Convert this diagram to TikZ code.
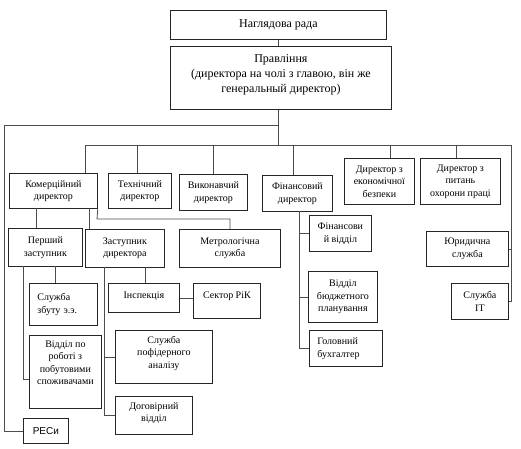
\documentclass[tikz,border=0pt]{standalone}
\usepackage{fontspec}
\setmainfont{Liberation Serif}
\newfontfamily\sansf{Liberation Sans}
\begin{document}
\begin{tikzpicture}[x=1pt,y=-1pt,
  box/.style={draw=black!85, line width=0.8pt, anchor=north west, align=center,
    inner sep=1pt, font=\fontsize{10}{12.5}\selectfont},
  bigbox/.style={box, font=\fontsize{12}{15}\selectfont},
  lbox/.style={box, align=left, inner xsep=8pt},
  con/.style={draw=black!70, line width=0.8pt}]
\useasboundingbox (0,0) rectangle (521,448);

% boxes
\node[bigbox, minimum width=216pt, minimum height=29pt] (nag) at (170,10) {Наглядова рада};
\node[bigbox, minimum width=221pt, minimum height=63pt] (prav) at (170,46)
  {Правління\\(директора на чолі з главою, він же\\генеральный директор)\\[-6pt]};
\node[box, minimum width=88pt, minimum height=35pt] (kom) at (9,173) {Комерційний\\директор};
\node[box, minimum width=63pt, minimum height=35pt] (tech) at (108,173) {Технічний\\директор};
\node[box, minimum width=68pt, minimum height=36pt] (vyk) at (179,174) {Виконавчий\\директор};
\node[box, minimum width=70pt, minimum height=36pt] (fin) at (262,175) {Фінансовий\\директор};
\node[box, minimum width=70pt, minimum height=46pt] (econ) at (344,158) {Директор з\\економічної\\безпеки};
\node[box, minimum width=80pt, minimum height=46pt] (ohor) at (420,158) {Директор з\\питань\\охорони праці};
\node[box, minimum width=74pt, minimum height=38pt] (pz) at (8,228) {Перший\\заступник};
\node[box, minimum width=79pt, minimum height=38pt] (zd) at (85,229) {Заступник\\директора};
\node[box, minimum width=101pt, minimum height=38pt] (metr) at (179,229) {Метрологічна\\служба};
\node[box, minimum width=62pt, minimum height=36pt] (finv) at (309,215) {Фінансови\\й відділ};
\node[box, minimum width=69pt, minimum height=51pt] (bud) at (308,271) {Відділ\\бюджетного\\планування};
\node[lbox, text width=57pt, minimum height=36pt] (buh) at (309,330) {Головний\\бухгалтер};
\node[box, minimum width=82pt, minimum height=35pt] (yur) at (426,231) {Юридична\\служба};
\node[box, minimum width=57pt, minimum height=36pt] (it) at (451,283) {Служба\\ІТ};
\node[lbox, text width=52pt, minimum height=42pt] (zbut) at (29,283) {Служба\\збуту э.э.\\[3pt]};
\node[box, minimum width=72pt, minimum height=73pt] (pob) at (29,335)
  {Відділ по\\роботі з\\побутовими\\споживачами\\[5.5pt]};
\node[box, minimum width=71pt, minimum height=29pt] (insp) at (108,283) {Інспекція\\[-7.5pt]};
\node[box, minimum width=67pt, minimum height=35pt] (rik) at (193,283) {Сектор РіК\\[-1.5pt]};
\node[box, minimum width=97pt, minimum height=53pt] (pof) at (115,330) {Служба\\пофідерного\\аналізу\\[-3.5pt]};
\node[box, minimum width=77pt, minimum height=38pt] (dog) at (115,396) {Договірний\\відділ\\[-5.5pt]};
\node[box, minimum width=45pt, minimum height=25pt, font=\sansf\fontsize{10}{12}\selectfont] (resy) at (23,418) {РЕСи};

% hub coordinates
\coordinate (hubL) at (278,125);
\coordinate (hubB) at (278,145);
\coordinate (leftline) at (4,125);
\coordinate (busL) at (85,145);
\coordinate (busR) at (511,145);
\coordinate (d2) at (137,145);
\coordinate (d3) at (213,145);
\coordinate (d4) at (293,145);
\coordinate (d5) at (390,145);
\coordinate (d6) at (456,145);
\coordinate (finbus) at (299,211);
\coordinate (pzA) at (23,266);
\coordinate (pzB) at (55,266);
\coordinate (zdA) at (104,267);
\coordinate (zdB) at (145,267);
\coordinate (komA) at (36,208);
\coordinate (komB) at (89,208);
\coordinate (metrbend) at (97,219);

% connectors
\draw[con] (nag.south -| hubL) -- (prav.north -| hubL);
\draw[con] (prav.south -| hubL) -- (hubB);
\draw[con] (hubL) -- (leftline) |- (resy.west);
\draw[con] (busL) -- (busR);
\draw[con] (busL) -- (busL |- kom.north);
\draw[con] (d2) -- (d2 |- tech.north);
\draw[con] (d3) -- (d3 |- vyk.north);
\draw[con] (d4) -- (d4 |- fin.north);
\draw[con] (d5) -- (d5 |- econ.north);
\draw[con] (d6) -- (d6 |- ohor.north);
\draw[con] (busR) |- (it.east);
\draw[con] (busR |- yur.east) -- (yur.east);

\draw[con] (komA) -- (komA |- pz.north);
\draw[con] (komB) -- (komB |- zd.north);
\draw[con] (kom.south east) -- (metrbend) -| (metr.north);

\draw[con] (finbus) |- (buh.west);
\draw[con] (finbus |- finv.west) -- (finv.west);
\draw[con] (finbus |- bud.west) -- (bud.west);

\draw[con] (pzA) |- (pob.west |- 0,379);
\draw[con] (pzB) -- (pzB |- zbut.north);
\draw[con] (zdA) |- (dog.west);
\draw[con] (zdA |- pof.west) -- (pof.west);
\draw[con] (zdB) -- (zdB |- insp.north);
\draw[con] (insp.east) -- (rik.west |- insp.east);
\end{tikzpicture}
\end{document}
